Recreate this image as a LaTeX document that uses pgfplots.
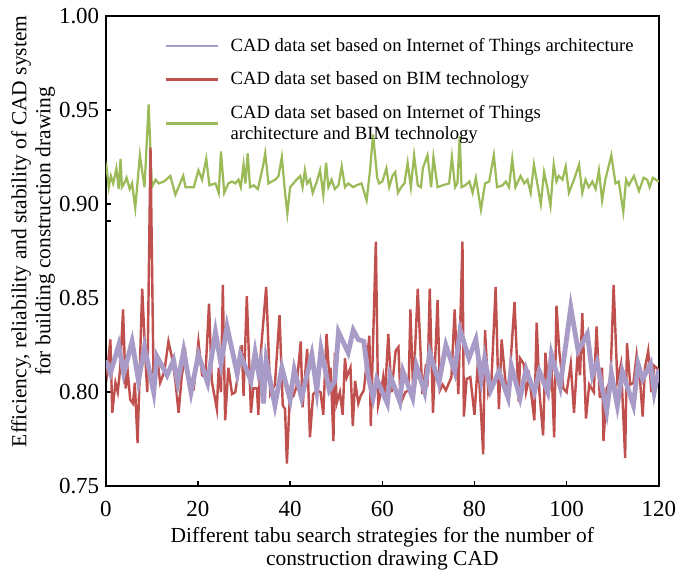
\documentclass[border=0pt]{standalone}
\usepackage{fontspec}
\setmainfont{Liberation Serif}
\usepackage{pgfplots}
\pgfplotsset{compat=1.18}
\definecolor{cpurple}{HTML}{A99BC7}
\definecolor{cred}{HTML}{C0504D}
\definecolor{cgreen}{HTML}{9BBB59}
\begin{document}
\begin{tikzpicture}
\begin{axis}[
  scale only axis, width=296.4pt, height=252pt,
  xmin=0, xmax=120, ymin=0.75, ymax=1.00,
  xtick={0,20,...,120},
  ytick={0.80,0.891,0.90,0.95},
  yticklabels={0.80,,0.90,0.95},
  extra y ticks={0.75,0.85,1.00},
  extra y tick labels={0.75,0.85,1.00},
  extra y tick style={major tick length=0pt},
  tick align=inside, xtick pos=bottom, ytick pos=left,
  major tick length=3pt,
  tick style={black, line width=0.8pt},
  axis line style={black, line width=0.8pt},
  /pgf/number format/assume math mode=true,
  ticklabel style={font=\fontsize{12.3}{14}\selectfont},
  xticklabel style={inner xsep=0pt, yshift=-4.5pt},
  xlabel={Different tabu search strategies for the number of\\construction drawing CAD},
  ylabel={Efficiency, reliability and stability of CAD system\\for building construction drawing},
  xlabel style={align=center, font=\fontsize{11.5}{12.3}\selectfont,
    at={(axis description cs:0.5,0)}, anchor=north, yshift=-18.7pt},
  ylabel style={align=center, font=\fontsize{11.5}{12.9}\selectfont,
    at={(axis description cs:-0.080,0.542)}, anchor=south},
  legend style={at={(0.096,0.97)}, anchor=north west, draw=none, fill=none,
    font=\fontsize{10}{11.3}\selectfont, row sep=5.5pt, cells={align=left}},
  legend cell align=left,
  reverse legend,
  legend image code/.code={\draw[#1, line width=1.3pt] (0cm,0cm) -- (0.98cm,0cm); \path (1.1cm,0cm);},
]
\addplot[cgreen, line width=1.2pt] coordinates {
(0,0.916)(0.2,0.919)(0.65,0.909)(1.1,0.915)(1.6,0.911)(2.3,0.919)(2.8,0.908)(3.2,0.924)(3.5,0.909)(4.0,0.911)(4.5,0.914)(5.2,0.908)(5.7,0.911)(6.4,0.898)(7.4,0.926)(8.4,0.909)(9.3,0.953)(10.0,0.909)(10.8,0.913)(11.5,0.911)(12.6,0.912)(13.1,0.913)(14.0,0.915)(15.1,0.905)(16.8,0.915)(17.3,0.909)(19.1,0.909)(20.1,0.918)(20.9,0.913)(21.8,0.924)(22.5,0.910)(23.8,0.911)(24.5,0.906)(25.0,0.928)(25.7,0.906)(26.6,0.911)(27.4,0.912)(28.1,0.911)(28.8,0.913)(29.3,0.909)(29.9,0.921)(30.3,0.911)(30.8,0.927)(31.3,0.909)(32.1,0.910)(33.0,0.908)(34.1,0.920)(34.6,0.927)(35.3,0.911)(36.0,0.912)(36.8,0.913)(37.5,0.915)(38.2,0.925)(38.9,0.906)(39.4,0.895)(40.0,0.909)(40.7,0.911)(41.4,0.913)(42.2,0.915)(42.7,0.909)(43.2,0.918)(43.7,0.911)(44.3,0.913)(44.9,0.906)(45.8,0.912)(46.5,0.918)(47.2,0.905)(47.8,0.922)(48.3,0.909)(49.0,0.913)(49.7,0.908)(50.5,0.910)(51.2,0.920)(51.9,0.909)(52.6,0.911)(53.7,0.909)(54.4,0.910)(55.5,0.911)(56.6,0.902)(57.3,0.917)(58.0,0.937)(58.9,0.914)(59.3,0.911)(60.0,0.912)(60.9,0.919)(61.5,0.909)(62.2,0.915)(62.8,0.917)(63.4,0.906)(64.1,0.909)(64.8,0.911)(65.5,0.922)(66.2,0.909)(66.9,0.926)(67.7,0.910)(68.4,0.909)(68.8,0.919)(69.8,0.926)(70.6,0.909)(71.1,0.925)(72.0,0.909)(73.1,0.910)(74.5,0.911)(75.1,0.925)(75.8,0.909)(76.3,0.911)(76.8,0.936)(77.2,0.909)(78.0,0.910)(78.9,0.912)(79.6,0.906)(80.3,0.914)(81.4,0.897)(82.3,0.911)(83.2,0.912)(84.2,0.926)(84.9,0.909)(86.1,0.910)(86.8,0.912)(87.5,0.909)(88.2,0.924)(88.9,0.909)(90.0,0.915)(90.8,0.911)(91.5,0.913)(92.2,0.906)(92.9,0.921)(93.7,0.910)(94.4,0.900)(95.1,0.917)(95.8,0.909)(96.5,0.899)(97.2,0.921)(97.8,0.912)(98.3,0.915)(99.1,0.913)(99.8,0.920)(100.5,0.906)(101.6,0.913)(102.7,0.921)(103.4,0.906)(104.1,0.913)(104.8,0.909)(105.6,0.912)(106.3,0.908)(107.0,0.918)(107.7,0.902)(108.4,0.913)(109.7,0.926)(110.6,0.911)(111.3,0.912)(112.3,0.896)(112.9,0.913)(113.5,0.910)(114.6,0.915)(115.7,0.907)(116.7,0.914)(117.5,0.913)(118.0,0.909)(118.7,0.914)(120.0,0.912)
};
\addlegendentry{CAD data set based on Internet of Things\\architecture and BIM technology}
\addplot[cred, line width=1.3pt] coordinates {
(0,0.817)(0.3,0.811)(1.0,0.828)(1.4,0.789)(2.1,0.805)(2.6,0.800)(3.1,0.812)(3.75,0.844)(4.3,0.802)(4.8,0.810)(5.3,0.796)(5.9,0.794)(6.3,0.805)(6.9,0.773)(7.9,0.855)(8.6,0.818)(9.0,0.800)(9.7,0.930)(10.4,0.800)(11.1,0.820)(11.8,0.805)(12.7,0.811)(13.6,0.827)(14.4,0.818)(15.1,0.806)(15.8,0.789)(16.5,0.809)(17.3,0.820)(18.0,0.804)(19.1,0.802)(20.1,0.827)(20.9,0.809)(21.6,0.808)(22.4,0.847)(23.0,0.806)(24.1,0.791)(24.5,0.813)(25.0,0.800)(25.4,0.857)(25.9,0.785)(26.6,0.813)(27.4,0.799)(28.1,0.800)(28.8,0.811)(29.5,0.825)(29.9,0.798)(30.6,0.851)(31.5,0.789)(32.0,0.802)(32.8,0.802)(33.1,0.788)(33.6,0.820)(34.8,0.856)(35.7,0.799)(36.7,0.804)(37.7,0.841)(38.4,0.793)(38.9,0.791)(39.3,0.762)(39.9,0.796)(40.7,0.798)(41.4,0.803)(42.3,0.827)(42.7,0.792)(43.7,0.823)(44.3,0.776)(45.0,0.799)(45.9,0.801)(46.6,0.800)(47.2,0.788)(47.9,0.831)(48.5,0.808)(48.8,0.813)(49.4,0.774)(49.7,0.821)(50.1,0.794)(50.8,0.800)(51.4,0.788)(51.9,0.818)(52.3,0.808)(53.1,0.813)(53.6,0.782)(54.1,0.806)(54.8,0.794)(55.3,0.798)(56.0,0.801)(57.2,0.830)(57.5,0.782)(58.6,0.880)(59.1,0.793)(59.8,0.801)(60.2,0.808)(60.6,0.799)(61.3,0.831)(62.0,0.800)(62.9,0.822)(63.5,0.824)(64.0,0.794)(65.0,0.800)(65.7,0.801)(66.1,0.844)(66.7,0.800)(67.7,0.855)(68.7,0.799)(69.5,0.815)(69.8,0.803)(70.3,0.855)(71.0,0.789)(72.0,0.849)(72.5,0.801)(73.1,0.804)(73.8,0.801)(75.0,0.808)(75.7,0.844)(76.5,0.799)(77.4,0.880)(77.7,0.787)(78.3,0.807)(79.1,0.808)(80.0,0.788)(80.8,0.818)(81.9,0.767)(82.3,0.833)(83.0,0.800)(83.7,0.807)(84.6,0.856)(85.3,0.791)(85.9,0.828)(86.9,0.801)(87.6,0.807)(88.7,0.848)(89.6,0.795)(89.9,0.818)(90.7,0.815)(91.2,0.800)(91.9,0.808)(93.0,0.785)(93.5,0.837)(94.1,0.800)(94.9,0.777)(95.4,0.821)(96.1,0.800)(96.8,0.808)(97.3,0.776)(97.8,0.846)(98.4,0.822)(99.3,0.802)(100.0,0.800)(100.9,0.815)(101.6,0.789)(102.4,0.821)(102.9,0.809)(103.4,0.842)(104.2,0.786)(104.9,0.804)(105.9,0.800)(106.5,0.835)(107.2,0.797)(107.7,0.813)(108.0,0.774)(108.7,0.802)(109.5,0.806)(110.2,0.857)(111.0,0.806)(111.8,0.815)(112.7,0.765)(113.1,0.826)(113.8,0.804)(114.5,0.805)(115.2,0.820)(116.0,0.804)(116.5,0.787)(117.0,0.813)(117.7,0.822)(118.4,0.800)(119.0,0.814)(120.0,0.812)
};
\addlegendentry{CAD data set based on BIM technology}
\addplot[cpurple, line width=2.6pt] coordinates {
(0,0.817)(1.0,0.810)(2.8,0.825)(3.9,0.810)(5.7,0.827)(7.1,0.806)(8.4,0.824)(10.4,0.800)(11.1,0.819)(13.3,0.809)(14.7,0.817)(15.6,0.805)(16.9,0.822)(18.5,0.800)(20.1,0.820)(22.1,0.805)(23.8,0.832)(25.0,0.815)(26.3,0.835)(28.5,0.810)(29.2,0.820)(31.5,0.806)(32.4,0.821)(33.1,0.811)(33.6,0.816)(34.2,0.794)(34.8,0.817)(36.7,0.793)(38.2,0.813)(40.0,0.796)(40.9,0.812)(42.5,0.797)(44.7,0.820)(45.8,0.801)(46.7,0.823)(48.5,0.801)(49.7,0.806)(50.5,0.832)(52.6,0.821)(53.7,0.833)(54.8,0.828)(56.0,0.827)(56.9,0.809)(58.0,0.797)(58.8,0.807)(61.1,0.794)(61.7,0.809)(63.8,0.795)(64.5,0.811)(66.6,0.797)(67.4,0.814)(69.2,0.800)(70.3,0.821)(72.3,0.805)(73.8,0.825)(75.7,0.811)(76.9,0.833)(78.8,0.818)(80.3,0.828)(81.5,0.807)(82.2,0.818)(83.5,0.801)(85.3,0.811)(87.3,0.797)(88.0,0.814)(89.9,0.797)(91.2,0.812)(93.0,0.800)(94.1,0.811)(95.9,0.800)(96.7,0.820)(98.6,0.803)(100.9,0.845)(102.5,0.822)(104.5,0.831)(105.6,0.809)(106.6,0.816)(108.7,0.790)(109.7,0.810)(111.0,0.793)(112.1,0.811)(114.5,0.793)(115.5,0.815)(116.5,0.807)(118.2,0.815)(119.0,0.800)(120.0,0.812)
};
\addlegendentry{CAD data set based on Internet of Things architecture}
\end{axis}
\path (current axis.south west) ++(-56.7pt,-46.5pt);
\path (current axis.north east) ++(8.6pt,8.6pt);
\end{tikzpicture}
\end{document}
